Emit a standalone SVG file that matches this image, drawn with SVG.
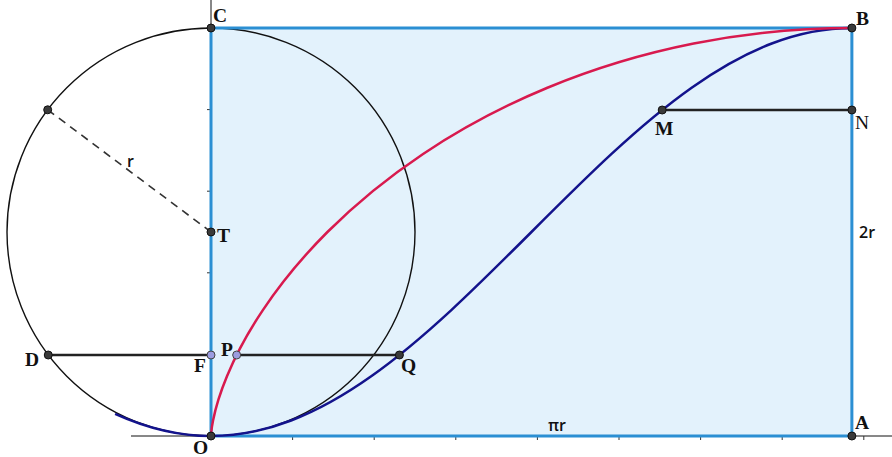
<svg xmlns="http://www.w3.org/2000/svg" width="892" height="457" viewBox="0 0 892 457">
<style>
.lbl{font-family:"Liberation Serif","Times New Roman",serif;font-weight:bold;font-size:19.5px;fill:#111}
.lbln{font-family:"Liberation Serif","Times New Roman",serif;font-size:19.5px;fill:#111}
.dim{font-family:"Open Sans","Liberation Sans",Arial,sans-serif;font-weight:600;font-size:16px;fill:#111}
.pt{fill:#3a3a3a;stroke:#111;stroke-width:1}
.ptv{fill:#9c9ce0;stroke:#444;stroke-width:1}
.axis{stroke:#111;stroke-width:1;fill:none}
.tick{stroke:#333;stroke-width:1}
.seg{stroke:#222;stroke-width:2.5;fill:none}
</style>
<rect x="0" y="0" width="892" height="457" fill="#ffffff"/>
<g id="rect-fill"><rect x="211" y="28" width="640.88" height="408" fill="#e3f2fc"/></g>
<g id="axes">
<line class="axis" x1="131" y1="436" x2="892" y2="436"/>
<line class="axis" x1="211" y1="0" x2="211" y2="436"/>
<g class="tick">
<line x1="292.6" y1="436" x2="292.6" y2="440"/><line x1="374.2" y1="436" x2="374.2" y2="440"/>
<line x1="455.8" y1="436" x2="455.8" y2="440"/><line x1="537.4" y1="436" x2="537.4" y2="440"/>
<line x1="619" y1="436" x2="619" y2="440"/><line x1="700.6" y1="436" x2="700.6" y2="440"/>
<line x1="782.2" y1="436" x2="782.2" y2="440"/><line x1="863.8" y1="436" x2="863.8" y2="440"/>
<line x1="207" y1="354.4" x2="211" y2="354.4"/><line x1="207" y1="272.8" x2="211" y2="272.8"/>
<line x1="207" y1="191.2" x2="211" y2="191.2"/><line x1="207" y1="109.6" x2="211" y2="109.6"/>
</g>
</g>
<g id="circle"><circle cx="211" cy="232" r="204" fill="none" stroke="#111" stroke-width="1.4"/></g>
<g id="connectors">
<line x1="47.7" y1="109.8" x2="211" y2="232" stroke="#333" stroke-width="1.6" stroke-dasharray="8,6"/>
<rect x="211" y="28" width="640.88" height="408" fill="none" stroke="#2b8fd3" stroke-width="3"/>
<path d="M115.12,413.88 C147.08,428.35 179.04,436 211,436 C237.7,436 264.41,430.69 291.11,420.47 C317.81,410.25 344.52,395.13 371.22,376.25 C397.92,357.37 424.63,334.74 451.33,310.07 C478.03,285.40 504.74,258.70 531.44,232 C558.14,205.30 584.85,178.60 611.55,153.93 C638.25,129.26 664.96,106.63 691.66,87.75 C718.36,68.87 745.07,53.75 771.77,43.53 C798.47,33.31 825.18,28 851.88,28" fill="none" stroke="#13138c" stroke-width="2.5"/>
<path d="M211,436 C211,436 211,434.68 211.26,432.08 C211.52,429.48 212.02,425.58 213.04,420.47 C215.07,410.25 219.15,395.13 226.97,376.25 C234.79,357.37 246.38,334.74 262.86,310.07 C279.34,285.40 300.74,258.70 327.44,232 C354.14,205.30 386.16,178.60 423.08,153.93 C460.00,129.26 501.83,106.63 547.41,87.75 C592.99,68.87 642.34,53.75 693.71,43.53 C745.08,33.31 798.48,28 851.88,28" fill="none" stroke="#d81a4e" stroke-width="2.5"/>
<line class="seg" x1="48.25" y1="355" x2="211" y2="355"/>
<line class="seg" x1="236.66" y1="355" x2="399.41" y2="355"/>
<line class="seg" x1="662.2" y1="110" x2="851.88" y2="110"/>
</g>
<g id="node-O"><circle class="pt" cx="211" cy="436" r="4"/><text class="lbl" x="193" y="454">O</text></g>
<g id="node-A"><circle class="pt" cx="851.88" cy="436" r="4"/><text class="lbl" x="855" y="429">A</text></g>
<g id="node-B"><circle class="pt" cx="851.88" cy="28" r="4"/><text class="lbl" x="856" y="25">B</text></g>
<g id="node-C"><circle class="pt" cx="211" cy="28" r="4"/><text class="lbl" x="213" y="22">C</text></g>
<g id="node-T"><circle class="pt" cx="211" cy="232" r="4"/><text class="lbl" x="217" y="242">T</text></g>
<g id="node-R"><circle class="pt" cx="47.7" cy="109.8" r="4"/></g>
<g id="node-D"><circle class="pt" cx="48.25" cy="355" r="4"/><text class="lbl" x="25" y="366">D</text></g>
<g id="node-F"><circle class="ptv" cx="211" cy="355" r="4"/><text class="lbl" x="194" y="372">F</text></g>
<g id="node-P"><circle class="ptv" cx="236.66" cy="355" r="4"/><text class="lbl" x="221" y="356">P</text></g>
<g id="node-Q"><circle class="pt" cx="399.41" cy="355" r="4"/><text class="lbl" x="401" y="372">Q</text></g>
<g id="node-M"><circle class="pt" cx="662.2" cy="110" r="4"/><text class="lbl" x="655" y="135">M</text></g>
<g id="node-N"><circle class="pt" cx="851.88" cy="110" r="4"/><text class="lbln" x="855" y="129">N</text></g>
<g id="labels">
<text class="dim" x="127" y="167">r</text>
<text class="dim" x="859" y="238">2r</text>
<text class="dim" x="548" y="431">πr</text>
</g>
</svg>
